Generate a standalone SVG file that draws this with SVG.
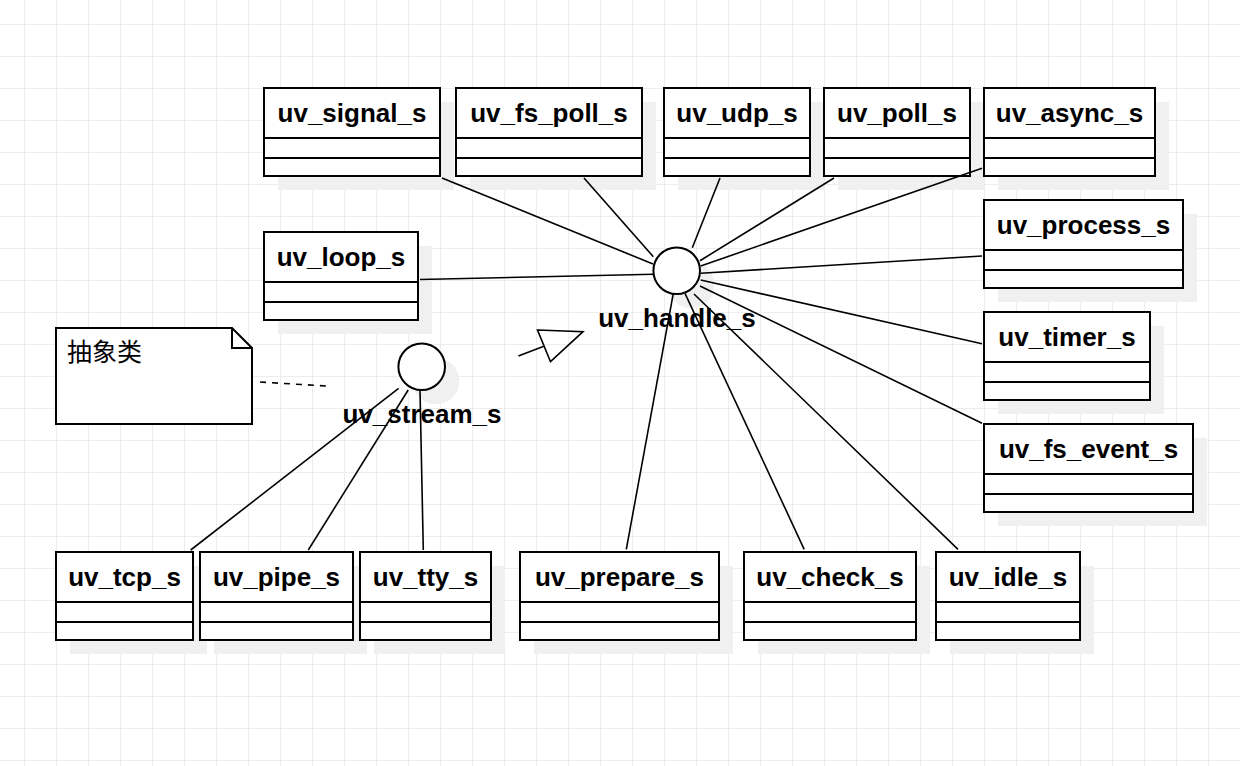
<svg xmlns="http://www.w3.org/2000/svg" width="1240" height="766" viewBox="0 0 1240 766">
<defs>
<pattern id="grid" x="24" y="24" width="32" height="32" patternUnits="userSpaceOnUse">
<path d="M0.5 0 V32 M0 0.5 H32" fill="none" stroke="#ededed" stroke-width="1"/>
</pattern>
<style>
.box{fill:#ffffff;stroke:#000000;stroke-width:2}
.sep{stroke:#000000;stroke-width:2}
.shadow{fill:#f0f0f0}
.title{font-family:"Liberation Sans",Arial,sans-serif;font-weight:bold;font-size:26px;fill:#000000;text-anchor:middle}
.conn{stroke:#000000;stroke-width:1.6;fill:none}
.note-text{font-family:"Noto Sans CJK SC","Noto Sans",sans-serif;font-size:25px;fill:#000000}
</style>
</defs>
<rect width="1240" height="766" fill="#ffffff"/>
<rect width="1240" height="766" fill="url(#grid)"/>

<g id="shadows">
<rect class="shadow" x="278" y="102" width="176" height="88"/>
<rect class="shadow" x="470" y="102" width="186" height="88"/>
<rect class="shadow" x="678" y="102" width="146" height="88"/>
<rect class="shadow" x="838" y="102" width="146" height="88"/>
<rect class="shadow" x="998" y="102" width="171" height="88"/>
<rect class="shadow" x="998" y="214" width="199" height="88"/>
<rect class="shadow" x="998" y="326" width="166" height="88"/>
<rect class="shadow" x="998" y="438" width="209" height="88"/>
<rect class="shadow" x="278" y="246" width="154" height="88"/>
<rect class="shadow" x="70" y="566" width="137" height="88"/>
<rect class="shadow" x="214" y="566" width="153" height="88"/>
<rect class="shadow" x="374" y="566" width="131" height="88"/>
<rect class="shadow" x="534" y="566" width="199" height="88"/>
<rect class="shadow" x="758" y="566" width="172" height="88"/>
<rect class="shadow" x="950" y="566" width="144" height="88"/>
<circle class="shadow" cx="691" cy="285" r="23.3"/>
<circle class="shadow" cx="436" cy="381" r="23.3"/>
</g>

<g id="uv_signal_s"><rect class="box" x="264" y="88" width="176" height="88"/><path class="sep" d="M264 138H440M264 158H440"/><text class="title" x="352" y="122">uv_signal_s</text></g>
<g id="uv_fs_poll_s"><rect class="box" x="456" y="88" width="186" height="88"/><path class="sep" d="M456 138H642M456 158H642"/><text class="title" x="549" y="122">uv_fs_poll_s</text></g>
<g id="uv_udp_s"><rect class="box" x="664" y="88" width="146" height="88"/><path class="sep" d="M664 138H810M664 158H810"/><text class="title" x="737" y="122">uv_udp_s</text></g>
<g id="uv_poll_s"><rect class="box" x="824" y="88" width="146" height="88"/><path class="sep" d="M824 138H970M824 158H970"/><text class="title" x="897" y="122">uv_poll_s</text></g>
<g id="uv_async_s"><rect class="box" x="984" y="88" width="171" height="88"/><path class="sep" d="M984 138H1155M984 158H1155"/><text class="title" x="1069.5" y="122">uv_async_s</text></g>
<g id="uv_process_s"><rect class="box" x="984" y="200" width="199" height="88"/><path class="sep" d="M984 250H1183M984 270H1183"/><text class="title" x="1083.5" y="234">uv_process_s</text></g>
<g id="uv_timer_s"><rect class="box" x="984" y="312" width="166" height="88"/><path class="sep" d="M984 362H1150M984 382H1150"/><text class="title" x="1067" y="346">uv_timer_s</text></g>
<g id="uv_fs_event_s"><rect class="box" x="984" y="424" width="209" height="88"/><path class="sep" d="M984 474H1193M984 494H1193"/><text class="title" x="1088.5" y="458">uv_fs_event_s</text></g>
<g id="uv_loop_s"><rect class="box" x="264" y="232" width="154" height="88"/><path class="sep" d="M264 282H418M264 302H418"/><text class="title" x="341" y="266">uv_loop_s</text></g>
<g id="uv_tcp_s"><rect class="box" x="56" y="552" width="137" height="88"/><path class="sep" d="M56 602H193M56 622H193"/><text class="title" x="124.5" y="586">uv_tcp_s</text></g>
<g id="uv_pipe_s"><rect class="box" x="200" y="552" width="153" height="88"/><path class="sep" d="M200 602H353M200 622H353"/><text class="title" x="276.5" y="586">uv_pipe_s</text></g>
<g id="uv_tty_s"><rect class="box" x="360" y="552" width="131" height="88"/><path class="sep" d="M360 602H491M360 622H491"/><text class="title" x="425.5" y="586">uv_tty_s</text></g>
<g id="uv_prepare_s"><rect class="box" x="520" y="552" width="199" height="88"/><path class="sep" d="M520 602H719M520 622H719"/><text class="title" x="619.5" y="586">uv_prepare_s</text></g>
<g id="uv_check_s"><rect class="box" x="744" y="552" width="172" height="88"/><path class="sep" d="M744 602H916M744 622H916"/><text class="title" x="830" y="586">uv_check_s</text></g>
<g id="uv_idle_s"><rect class="box" x="936" y="552" width="144" height="88"/><path class="sep" d="M936 602H1080M936 622H1080"/><text class="title" x="1008" y="586">uv_idle_s</text></g>

<g id="uv_handle_s"><circle class="box" cx="676.7" cy="270.7" r="23.3"/><text class="title" x="677" y="327">uv_handle_s</text></g>
<g id="uv_stream_s"><circle class="box" cx="421.7" cy="366.7" r="23.3"/><text class="title" x="422" y="423">uv_stream_s</text></g>

<g id="note"><path class="box" d="M56 328H232L252 348V424H56Z"/><path class="sep" fill="none" d="M232 328V348H252"/><text class="note-text" x="67" y="361">抽象类</text></g>

<g id="connectors">
<path class="conn" d="M442 178L653 264"/>
<path class="conn" d="M584 178L653.3 256.7"/>
<path class="conn" d="M720 178L692.3 247.7"/>
<path class="conn" d="M834 178L700 260.7"/>
<path class="conn" d="M982 168.3L700.7 266"/>
<path class="conn" d="M982 256L700.7 273.3"/>
<path class="conn" d="M982 343.7L700.7 280"/>
<path class="conn" d="M982 423.3L700 286"/>
<path class="conn" d="M958 549.3L694 294"/>
<path class="conn" d="M804.2 549.3L685 293.3"/>
<path class="conn" d="M626.3 549.3L673.3 293.3"/>
<path class="conn" d="M420 279.5L653.3 274.3"/>
<path class="conn" d="M190.7 550L398.6 388.3"/>
<path class="conn" d="M308.3 550L408.2 390"/>
<path class="conn" d="M423.3 550L420 390"/>
<path class="conn" d="M260 382L326 386" stroke-dasharray="6 6"/>
<path class="conn" d="M518.4 356L544.5 346"/>
<path class="conn" d="M537.5 330L583 331.7L550.5 361.7Z" fill="#ffffff"/>
</g>
</svg>
